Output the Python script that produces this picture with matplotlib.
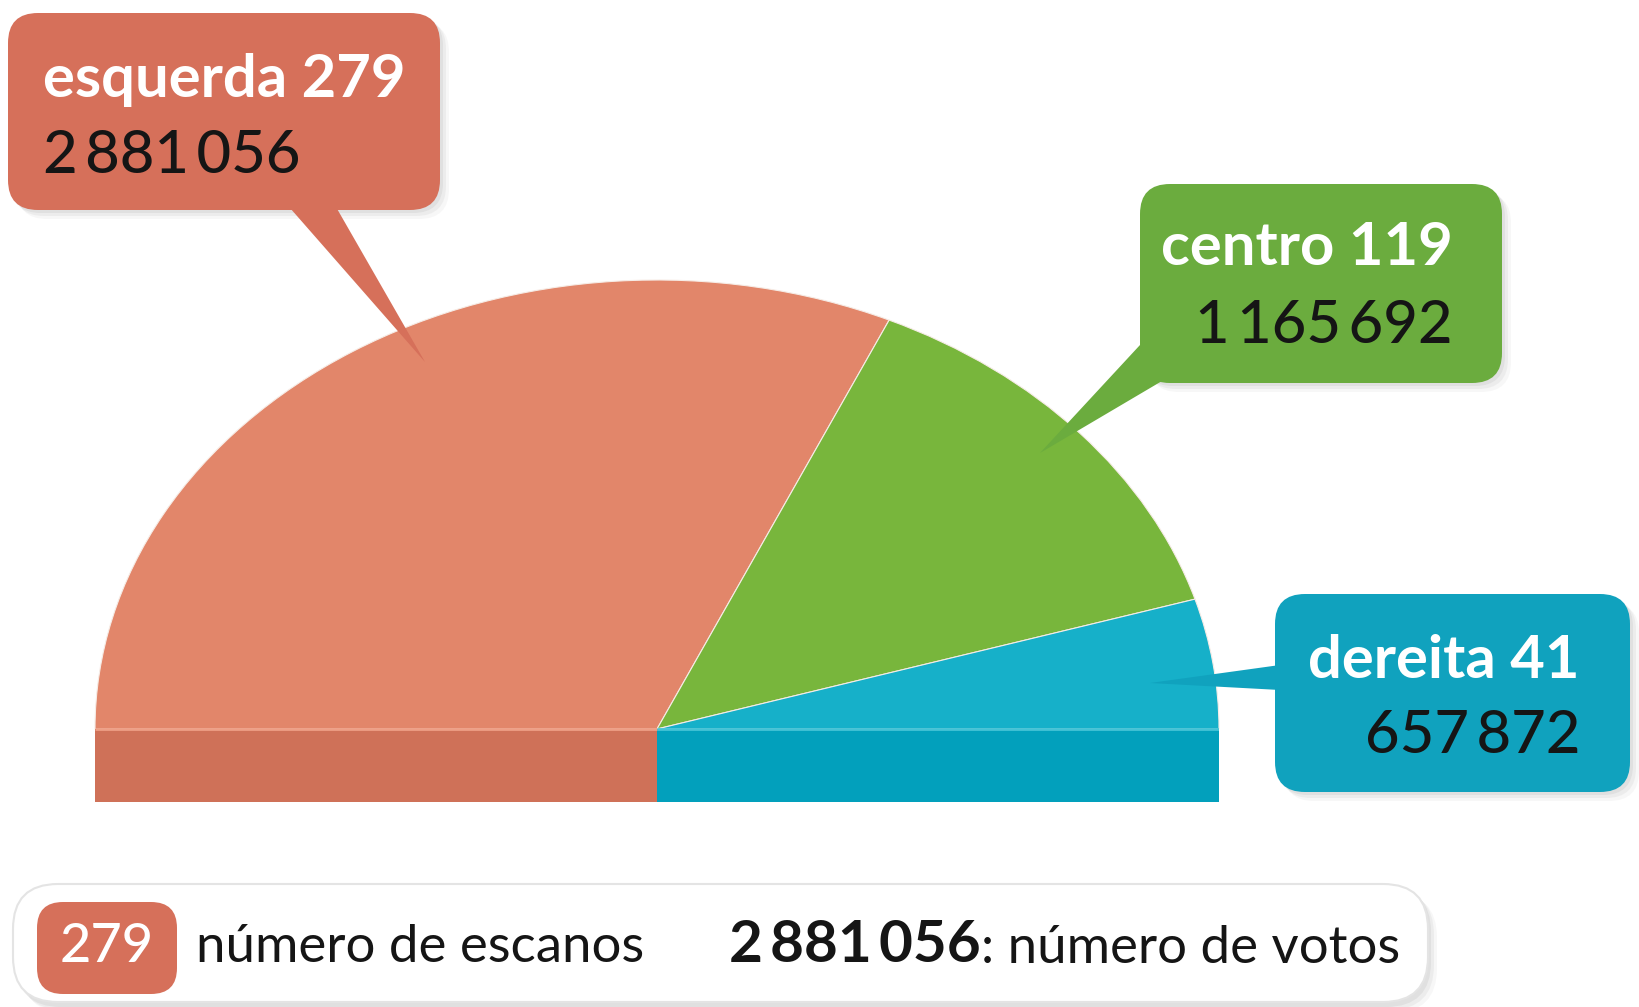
import matplotlib.pyplot as plt
from matplotlib.patches import FancyBboxPatch, Polygon

plt.rcParams['font.family'] = ['Lato', 'DejaVu Sans']

# data
blocs = ['esquerda', 'centro', 'dereita']
seats = [279, 119, 41]
votes = [2881056, 1165692, 657872]

wedge_colors = ['#E2866A', '#78B63C', '#16B0C9']
box_colors = ['#D6705A', '#6BAC3E', '#10A2BE']
strip_colors = ['#CF7158', '#02A0BC']
highlight = ['#EE9F86', '#45C3D6']


def fmt(v):
    return f"{v:,}".replace(",", "\u2009")


W, H = 1640, 1007
fig = plt.figure(figsize=(W / 100, H / 100), dpi=100)

# half pie, squashed: centre (657, 729), rx 562, ry 449, base strip 73 px
cx, cy, rx, ry, sh = 657, 729, 562, 449, 73
h = sh / ry
pax = fig.add_axes([(cx - rx) / W, (H - cy - sh) / H, 2 * rx / W, (ry + sh) / H])
wedges, _ = pax.pie(seats + [sum(seats)], colors=wedge_colors + ['none'],
                    startangle=180, counterclock=False,
                    wedgeprops=dict(edgecolor='#f6ece6', linewidth=0.8))
wedges[-1].set_visible(False)
pax.set_aspect('auto')
pax.set_xlim(-1, 1)
pax.set_ylim(-h, 1)
pax.bar([-1, 0], [h, h], width=1, bottom=-h, align='edge', color=strip_colors)
pax.plot([-1, 0], [0, 0], color=highlight[0], lw=2, solid_capstyle='butt')
pax.plot([0, 1], [0, 0], color=highlight[1], lw=2, solid_capstyle='butt')
pax.axis('off')

# overlay in pixel coordinates
ax = fig.add_axes([0, 0, 1, 1], facecolor='none')
ax.set_xlim(0, W)
ax.set_ylim(H, 0)
ax.axis('off')


def shadow(x0, y0, x1, y1, r):
    for k, a in [(9, 0.06), (6, 0.08), (3, 0.10)]:
        ax.add_patch(FancyBboxPatch((x0 + k, y0 + k), x1 - x0, y1 - y0,
                                    boxstyle=f"round,pad=0,rounding_size={r}",
                                    fc='#777777', ec='none', alpha=a, zorder=1))


callouts = [
    dict(box=(8, 13, 440, 210), tail=[(283, 200), (332, 200), (425, 362)],
         ha='left', x=43, y1=97, y2=173),
    dict(box=(1140, 184, 1502, 383), tail=[(1140, 345), (1162, 381), (1040, 453)],
         ha='right', x=1453, y1=265, y2=343),
    dict(box=(1275, 594, 1630, 792), tail=[(1280, 665), (1280, 690), (1150, 683)],
         ha='right', x=1580, y1=678, y2=753),
]

for i, c in enumerate(callouts):
    x0, y0, x1, y1 = c['box']
    shadow(x0, y0, x1, y1, 30)
    ax.add_patch(Polygon(c['tail'], closed=True, fc=box_colors[i], ec='none', zorder=2))
    ax.add_patch(FancyBboxPatch((x0, y0), x1 - x0, y1 - y0,
                                boxstyle="round,pad=0,rounding_size=30",
                                fc=box_colors[i], ec='none', zorder=3))
    ax.text(c['x'], c['y1'], f"{blocs[i]} {seats[i]}", ha=c['ha'], va='baseline',
            color='white', fontsize=43, fontweight='bold', zorder=4)
    ax.text(c['x'], c['y2'], fmt(votes[i]), ha=c['ha'], va='baseline',
            color='#151515', fontsize=43, fontweight='medium', zorder=4)

# legend
shadow(13, 884, 1428, 1004, 45)
ax.add_patch(FancyBboxPatch((13, 884), 1415, 118,
                            boxstyle="round,pad=0,rounding_size=45",
                            fc='white', ec='#e4e4e4', lw=1.5, zorder=3))
ax.add_patch(FancyBboxPatch((37, 902), 140, 92,
                            boxstyle="round,pad=0,rounding_size=26",
                            fc=box_colors[0], ec='none', zorder=4))
ax.text(107, 962, str(seats[0]), ha='center', va='baseline', color='white',
        fontsize=39, fontweight='medium', zorder=5)
ax.text(196, 962, "número de escanos", ha='left', va='baseline', color='#151515',
        fontsize=38, zorder=5)
t = ax.text(729, 962, fmt(votes[0]), ha='left', va='baseline', color='#151515',
            fontsize=42, fontweight='bold', zorder=5)
ax.annotate(": número de votos", xy=(1, 0), xycoords=t, ha='left', va='bottom',
            color='#151515', fontsize=38, zorder=5)

fig.savefig('out.png', dpi=100)
